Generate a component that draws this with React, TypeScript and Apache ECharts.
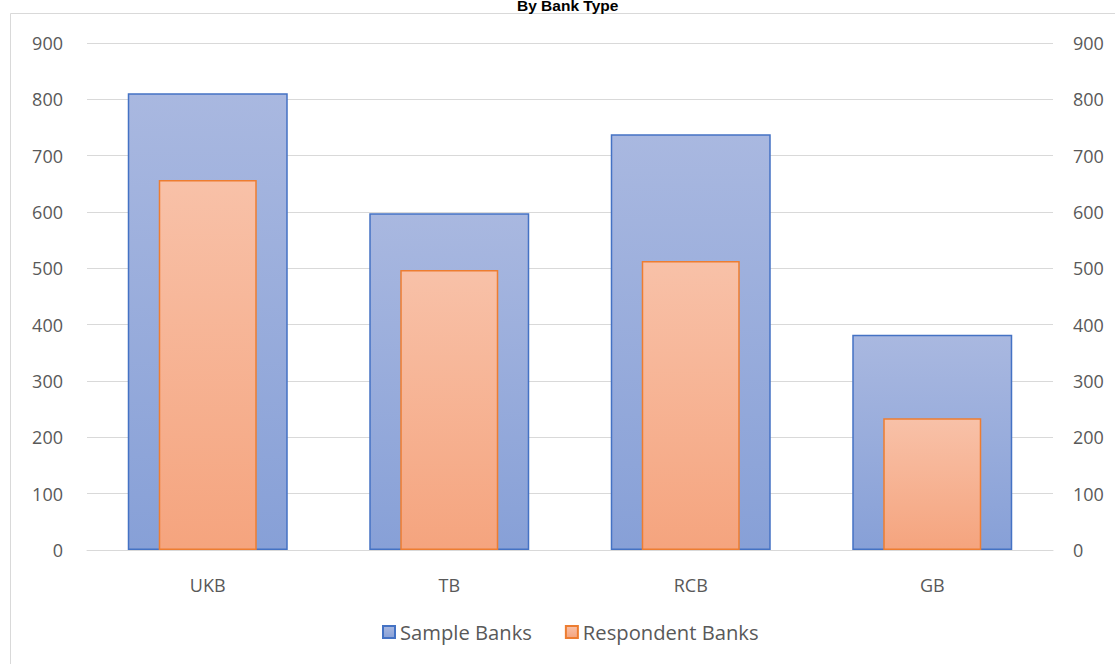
import React, { useEffect, useRef } from "react";
import * as echarts from "echarts";

const categories = ["UKB", "TB", "RCB", "GB"];
const sampleBanks = [811, 598, 738, 382];
const respondentBanks = [657, 497, 513, 234];
const yTicks = { min: 0, max: 900, interval: 100 };

export default function App() {
  const ref = useRef<HTMLDivElement>(null);
  useEffect(() => {
    const chart = echarts.init(ref.current!, null, { renderer: "svg" });
    const labelStyle = { color: "#595959", fontSize: 18, fontFamily: "Open Sans" };
    chart.setOption({
      animation: false,
      backgroundColor: "#ffffff",
      title: {
        text: "By Bank Type",
        left: 512,
        top: -8,
        textStyle: { fontFamily: "Liberation Sans", fontWeight: "bold", fontSize: 15.5, color: "#000000" },
      },
      graphic: [
        {
          type: "rect",
          shape: { x: 10.5, y: 13.5, width: 1120, height: 670 },
          style: { fill: "none", stroke: "#d9d9d9", lineWidth: 1 },
          silent: true,
          z: -10,
        },
      ],
      grid: { left: 87, right: 62, top: 43, bottom: 114 },
      legend: {
        bottom: 17,
        left: 377,
        itemWidth: 12,
        itemHeight: 12,
        itemGap: 33,
        icon: "rect",
        textStyle: { ...labelStyle, fontSize: 20.2, padding: [0, 0, 0, 0] },
        data: ["Sample Banks", "Respondent Banks"],
      },
      xAxis: [
        {
          type: "category",
          data: categories,
          axisLine: { lineStyle: { color: "#d9d9d9" } },
          axisTick: { show: false },
          axisLabel: { ...labelStyle, margin: 26 },
        },
        {
          type: "category",
          data: categories,
          show: false,
        },
      ],
      yAxis: [
        {
          type: "value",
          ...yTicks,
          axisLabel: { ...labelStyle, margin: 24 },
          splitLine: { lineStyle: { color: "#d9d9d9" } },
          axisLine: { show: false },
        },
        {
          type: "value",
          ...yTicks,
          position: "right",
          axisLabel: { ...labelStyle, margin: 20, align: "left" },
          splitLine: { show: false },
          axisLine: { show: false },
        },
      ],
      series: [
        {
          name: "Sample Banks",
          type: "bar",
          xAxisIndex: 0,
          yAxisIndex: 0,
          barWidth: 160,
          data: sampleBanks,
          itemStyle: {
            color: new echarts.graphic.LinearGradient(0, 0, 0, 1, [
              { offset: 0, color: "#a9b8e0" },
              { offset: 1, color: "#87a0d7" },
            ]),
            borderColor: "#4472c4",
            borderWidth: 1.5,
          },
          z: 2,
        },
        {
          name: "Respondent Banks",
          type: "bar",
          xAxisIndex: 1,
          yAxisIndex: 0,
          barWidth: 98,
          data: respondentBanks,
          itemStyle: {
            color: new echarts.graphic.LinearGradient(0, 0, 0, 1, [
              { offset: 0, color: "#f8c1a8" },
              { offset: 1, color: "#f5a47e" },
            ]),
            borderColor: "#ed7d31",
            borderWidth: 1.5,
          },
          z: 3,
        },
      ],
    });
    return () => chart.dispose();
  }, []);
  return (
    <div
      ref={ref}
      style={{ position: "absolute", left: 0, top: 0, width: 1115, height: 664 }}
    />
  );
}
